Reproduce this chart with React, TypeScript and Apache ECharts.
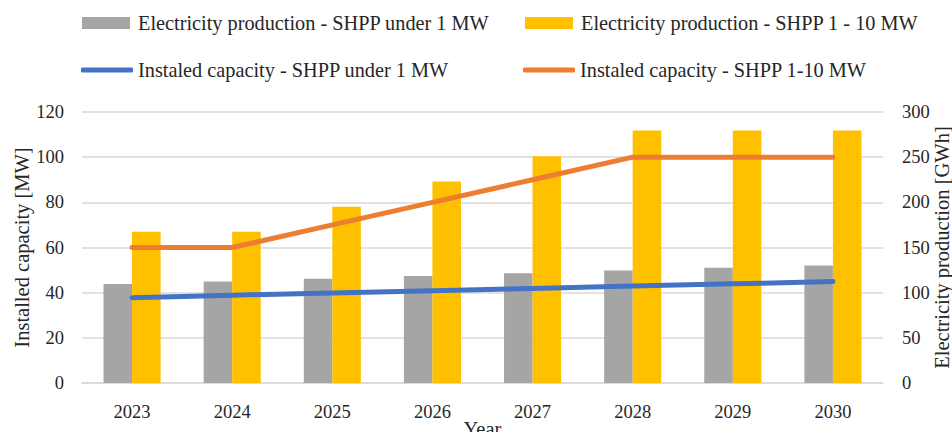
import React, { useEffect, useRef } from "react";
import * as echarts from "echarts";

const years = ["2023", "2024", "2025", "2026", "2027", "2028", "2029", "2030"];
const prodUnder1 = [109.5, 112.5, 115.5, 118.5, 121.5, 124.5, 127.5, 130];
const prod1to10 = [167.5, 167.5, 195, 223, 251, 279.5, 279.5, 279.5];
const capUnder1 = [37.8, 38.9, 39.9, 40.9, 41.9, 42.9, 43.9, 44.9];
const cap1to10 = [60, 60, 70, 80, 90, 100, 100, 100];

const names = {
  pu: "Electricity production - SHPP under 1 MW",
  pm: "Electricity production - SHPP 1 - 10 MW",
  cu: "Instaled capacity - SHPP under 1 MW",
  cm: "Instaled capacity - SHPP 1-10 MW",
};

const FONT = "Liberation Serif";
const TXT = "#262626";
const W = 952;
const H = 432;

export default function App() {
  const ref = useRef<HTMLDivElement>(null);
  useEffect(() => {
    if (!ref.current) return;
    const chart = echarts.init(ref.current, undefined, { renderer: "svg", width: W, height: H });
    const mkLegend = (name: string, left: number, top: number, line: boolean) => ({
      data: [name],
      left,
      top,
      orient: "horizontal",
      itemWidth: line ? 52 : 48,
      itemHeight: line ? 5 : 12,
      icon: line ? "roundRect" : "rect",
      textStyle: {
        fontFamily: FONT,
        fontSize: 20.3,
        color: TXT,
        padding: line ? [0, 0, 0, 0] : [0, 0, 0, 3],
      },
      selectedMode: false,
      padding: 0,
    });
    const nameStyle = { fontFamily: FONT, fontSize: 20.5, color: TXT };
    const tickStyle = { fontFamily: FONT, fontSize: 18.5, color: TXT };
    chart.setOption({
      animation: false,
      backgroundColor: "#ffffff",
      textStyle: { fontFamily: FONT },
      legend: [
        mkLegend(names.pu, 82, 13, false),
        mkLegend(names.pm, 525, 13, false),
        mkLegend(names.cu, 81, 60, true),
        mkLegend(names.cm, 523, 60, true),
      ],
      grid: {
        left: 82,
        right: 69,
        top: 112,
        bottom: 49,
        containLabel: false,
        outerBoundsMode: "none",
      },
      xAxis: {
        type: "category",
        data: years,
        name: "Year",
        nameLocation: "middle",
        nameGap: 35,
        nameMoveOverlap: false,
        nameTextStyle: nameStyle,
        axisLine: { lineStyle: { color: "#d9d9d9", width: 1.5 } },
        axisTick: { show: false },
        axisLabel: { ...tickStyle, margin: 19 },
      },
      yAxis: [
        {
          type: "value",
          min: 0,
          max: 120,
          interval: 20,
          name: "Installed capacity [MW]",
          nameLocation: "middle",
          nameGap: 50,
          nameMoveOverlap: false,
          nameTextStyle: nameStyle,
          axisLabel: { ...tickStyle, margin: 18 },
          splitLine: { lineStyle: { color: "#d9d9d9", width: 1.5 } },
          axisLine: { show: false },
          axisTick: { show: false },
        },
        {
          type: "value",
          min: 0,
          max: 300,
          interval: 50,
          position: "right",
          name: "Electricity production [GWh]",
          nameLocation: "middle",
          nameGap: 48,
          nameMoveOverlap: false,
          nameTextStyle: nameStyle,
          axisLabel: { ...tickStyle, margin: 19 },
          splitLine: { show: false },
          axisLine: { show: false },
          axisTick: { show: false },
        },
      ],
      series: [
        {
          name: names.pu,
          type: "bar",
          yAxisIndex: 1,
          data: prodUnder1,
          barGap: "0%",
          barCategoryGap: "43%",
          itemStyle: { color: "#a5a5a5" },
        },
        {
          name: names.pm,
          type: "bar",
          yAxisIndex: 1,
          data: prod1to10,
          barGap: "0%",
          barCategoryGap: "43%",
          itemStyle: { color: "#ffc000" },
        },
        {
          name: names.cu,
          type: "line",
          yAxisIndex: 0,
          data: capUnder1,
          symbol: "none",
          lineStyle: { color: "#4472c4", width: 5, cap: "round", join: "round" },
          itemStyle: { color: "#4472c4" },
        },
        {
          name: names.cm,
          type: "line",
          yAxisIndex: 0,
          data: cap1to10,
          symbol: "none",
          lineStyle: { color: "#ed7d31", width: 5, cap: "round", join: "round" },
          itemStyle: { color: "#ed7d31" },
        },
      ],
    });
    return () => chart.dispose();
  }, []);
  return (
    <div
      ref={ref}
      style={{ position: "absolute", left: 0, top: 0, width: W, height: H, overflow: "hidden" }}
    />
  );
}
